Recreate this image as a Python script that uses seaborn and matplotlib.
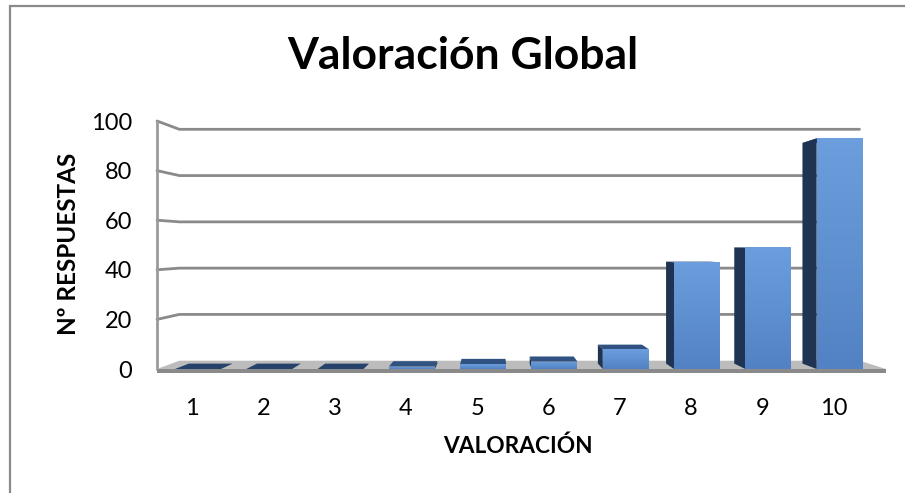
import numpy as np
import matplotlib
matplotlib.use("Agg")
import matplotlib.pyplot as plt
import seaborn as sns
import pandas as pd
from matplotlib.patches import Polygon, Rectangle
from matplotlib.colors import LinearSegmentedColormap

# Survey results: number of answers per score
categories = ["1", "2", "3", "4", "5", "6", "7", "8", "9", "10"]
respuestas = [0, 0, 0, 1, 2, 3, 8, 43, 49, 93]
y_ticks = [0, 20, 40, 60, 80, 100]

title = "Valoración Global"
x_label = "VALORACIÓN"
y_label = "Nº RESPUESTAS"

sns.set_theme(style="white")
plt.rcParams["font.family"] = ["Lato", "DejaVu Sans"]

fig = plt.figure(figsize=(9.05, 4.93), dpi=100)
ax = fig.add_axes([157 / 905, 124 / 493, 729 / 905, 248 / 493])

df = pd.DataFrame({"valoracion": categories, "respuestas": respuestas})
sns.barplot(data=df, x="valoracion", y="respuestas", color="#5b8ed0",
            saturation=1, width=0.645, ax=ax, zorder=6)
bars = list(ax.patches)

XL, XR = -0.575, 9.65
ax.set_xlim(XL, XR)
ax.set_ylim(0, 100)

# simple perspective: points recede towards a vanishing point (data coords)
VX, VY, DEPTH = 4.1, 50.0, 0.067
BAR_DEPTH = 0.65


def proj(x, y, d):
    return (x + d * DEPTH * (VX - x), y + d * DEPTH * (VY - y))


# back wall / side wall gridlines
for v in y_ticks[1:]:
    pts = [proj(XL, v, 0), proj(XL, v, 1), proj(XR, v, 1)]
    xs, ys = zip(*pts)
    ax.plot(xs, ys, color="#8a8a8a", lw=2.0, zorder=1, clip_on=False,
            solid_joinstyle="miter")
ax.plot([XL, XL], [0, 100], color="#9a9a9a", lw=2.0, zorder=1, clip_on=False)

# floor top and its front slab
floor = Polygon([proj(XL, 0, 0), proj(XR, 0, 0), proj(XR, 0, 1), proj(XL, 0, 1)],
                closed=True, fc="#bcbcbc", ec="none", zorder=2, clip_on=False)
ax.add_patch(floor)
slab = Polygon([(XL, 0), (XR, 0), (XR, -1.8), (XL, -1.8)], closed=True,
               fc="#8a8a8a", ec="none", zorder=3, clip_on=False)
ax.add_patch(slab)

# 3D faces of each bar
front_cmap = LinearSegmentedColormap.from_list("front", ["#5282c3", "#6c9edd"])
for p in bars:
    x0 = p.get_x()
    w = p.get_width()
    h = p.get_height()
    x1 = x0 + w
    top = Polygon([proj(x0, h, 0), proj(x1, h, 0), proj(x1, h, BAR_DEPTH),
                   proj(x0, h, BAR_DEPTH)], closed=True,
                  fc="#2f5282" if h > 0 else "#27426a", ec="none",
                  zorder=4, clip_on=False)
    ax.add_patch(top)
    if x0 > VX:
        xs = x0
    elif x1 < VX:
        xs = x1
    else:
        xs = None
    if xs is not None and h > 0:
        side = Polygon([proj(xs, 0, 0), proj(xs, h, 0), proj(xs, h, BAR_DEPTH),
                        proj(xs, 0, BAR_DEPTH)], closed=True,
                       fc="#1f3452", ec="none", zorder=5, clip_on=False)
        ax.add_patch(side)
    if h > 0:
        grad = np.linspace(0, 1, 64).reshape(-1, 1)
        im = ax.imshow(grad, cmap=front_cmap, origin="lower", aspect="auto",
                       extent=[x0, x1, 0, h], zorder=7, clip_on=True)
        im.set_clip_path(p)
    p.set_edgecolor("none")

ax.set_xlim(XL, XR)
ax.set_ylim(0, 100)

for s in ax.spines.values():
    s.set_visible(False)
ax.grid(False)
ax.set_facecolor("none")

ax.set_xticks(np.arange(len(categories)) - 0.085, categories)
ax.set_yticks(y_ticks)
ax.tick_params(axis="x", length=0, pad=21, labelsize=17, colors="black")
ax.tick_params(axis="y", length=0, pad=18, labelsize=17, colors="black")
ax.set_xlabel("")
ax.set_ylabel("")

fig.text(463 / 905, 1 - 56 / 493, title, ha="center", va="center",
         fontsize=32, fontweight="bold", color="black")
fig.text(518 / 905, 1 - 446 / 493, x_label, ha="center", va="center",
         fontsize=16.3, fontweight="bold", color="black")
fig.text(68 / 905, 1 - 244 / 493, y_label, ha="center", va="center",
         rotation=90, fontsize=17.5, fontweight="bold", color="black")

# chart area border
fig.add_artist(Rectangle((9.5 / 905, -0.2), 1.3, 1.2 - 5.5 / 493,
                         transform=fig.transFigure, fill=False,
                         ec="#8a8a8a", lw=1.6))

fig.savefig("out.png", dpi=100)
